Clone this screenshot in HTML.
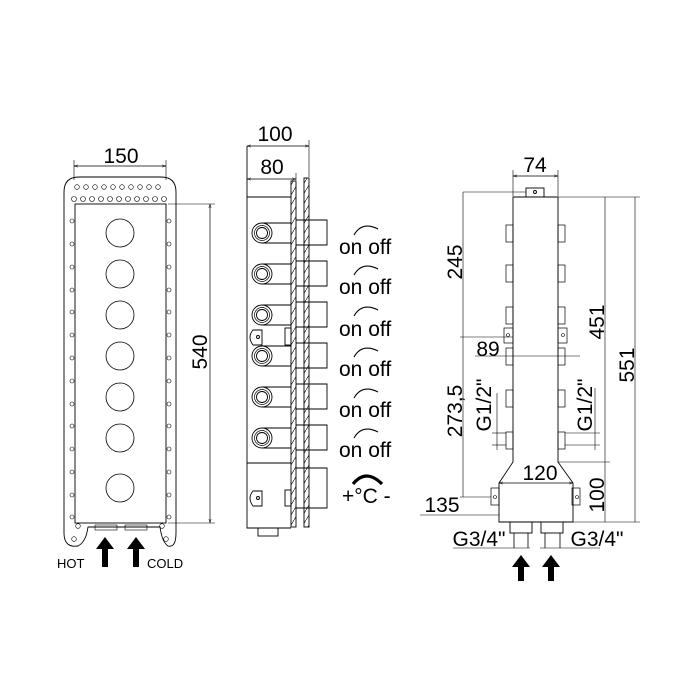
<!DOCTYPE html>
<html><head><style>html,body{margin:0;padding:0;background:#fff}svg{display:block}text{font-family:"Liberation Sans",sans-serif;fill:#000}</style></head><body>
<svg width="700" height="700" viewBox="0 0 700 700" xmlns="http://www.w3.org/2000/svg">
<defs>
<marker id="a" viewBox="0 0 10 10" refX="10" refY="5" markerWidth="6" markerHeight="6" orient="auto-start-reverse"><path d="M0,2 L10,5 L0,8" fill="none" stroke="#000" stroke-width="1"/></marker>
<pattern id="h" width="6" height="10" patternUnits="userSpaceOnUse"><path d="M0,10 L6,0" stroke="#000" stroke-width="0.6"/></pattern>
</defs>
<g fill="none" stroke="#000" stroke-width="0.9">
<path d="M64,533 L64,192 Q64,177 79,177 L161,177 Q176,177 176,192 L176,533 Q176,548 168,546 Q162,542 160,527 L88,527 Q86,542 78,546 Q64,548 64,533 Z"/>
<rect x="75" y="204" width="91" height="319"/>
<line x1="74" y1="166" x2="166" y2="166" marker-start="url(#a)" marker-end="url(#a)" stroke-width="0.7"/>
<line x1="74" y1="160" x2="74" y2="180" stroke-width="0.6"/>
<line x1="166" y1="160" x2="166" y2="180" stroke-width="0.6"/>
<line x1="210" y1="204" x2="210" y2="523" marker-start="url(#a)" marker-end="url(#a)" stroke-width="0.7"/>
<line x1="168" y1="204" x2="215" y2="204" stroke-width="0.6"/>
<line x1="168" y1="523" x2="215" y2="523" stroke-width="0.6"/>
<g stroke-width="0.8">
<circle cx="120" cy="233" r="14"/><circle cx="120" cy="274" r="14"/><circle cx="120" cy="315" r="14"/><circle cx="120" cy="356" r="14"/><circle cx="120" cy="397" r="14"/><circle cx="120" cy="438" r="14"/><circle cx="120" cy="488" r="14"/>
</g>
<g stroke-width="0.6">
<circle cx="77" cy="187" r="2.3"/><circle cx="86" cy="187" r="2.3"/><circle cx="95" cy="187" r="2.3"/><circle cx="104" cy="187" r="2.3"/><circle cx="113" cy="187" r="2.3"/><circle cx="122" cy="187" r="2.3"/><circle cx="131" cy="187" r="2.3"/><circle cx="140" cy="187" r="2.3"/><circle cx="149" cy="187" r="2.3"/><circle cx="158" cy="187" r="2.3"/>
<circle cx="74" cy="199" r="2.5"/><circle cx="83" cy="199" r="2.5"/><circle cx="92" cy="199" r="2.5"/><circle cx="101" cy="199" r="2.5"/><circle cx="110" cy="199" r="2.5"/><circle cx="119" cy="199" r="2.5"/><circle cx="128" cy="199" r="2.5"/><circle cx="137" cy="199" r="2.5"/><circle cx="146" cy="199" r="2.5"/><circle cx="155" cy="199" r="2.5"/><circle cx="164" cy="199" r="2.5"/>
</g>
<g stroke-width="0.6" id="sh">
<circle cx="72" cy="221" r="2"/><circle cx="72" cy="244" r="2"/><circle cx="72" cy="267" r="2"/><circle cx="72" cy="290" r="2"/><circle cx="72" cy="312" r="2"/><circle cx="72" cy="335" r="2"/><circle cx="72" cy="358" r="2"/><circle cx="72" cy="381" r="2"/><circle cx="72" cy="404" r="2"/><circle cx="72" cy="426" r="2"/><circle cx="72" cy="449" r="2"/><circle cx="72" cy="472" r="2"/><circle cx="72" cy="495" r="2"/><circle cx="72" cy="517" r="2"/>
</g>
<use href="#sh" transform="translate(97,0)"/>
<g stroke-width="0.6"><circle cx="78" cy="526" r="2.3"/><circle cx="162" cy="526" r="2.3"/><circle cx="74" cy="539" r="2.3"/><circle cx="166" cy="539" r="2.3"/>
<rect x="95" y="525" width="22" height="5"/><rect x="125" y="525" width="22" height="5"/></g>
<path d="M247,146 L247,528 L291,528 M247,197 L291,197"/>
<line x1="247" y1="146" x2="309" y2="146" marker-start="url(#a)" marker-end="url(#a)" stroke-width="0.7"/>
<line x1="309" y1="140" x2="309" y2="177" stroke-width="0.6"/>
<line x1="247" y1="179" x2="296" y2="179" marker-start="url(#a)" marker-end="url(#a)" stroke-width="0.7"/>
<line x1="296" y1="173" x2="296" y2="180" stroke-width="0.6"/>
<rect x="291" y="181" width="5" height="346" fill="url(#h)"/>
<rect x="304" y="178" width="5" height="349" fill="url(#h)"/>
<line x1="247" y1="463" x2="291" y2="463"/>
<g id="kn"><circle cx="262" cy="233" r="10"/><circle cx="262" cy="233" r="7.5" stroke-width="0.7"/><circle cx="262" cy="233" r="5.5"/><path d="M262,223 L291,223 M262,243 L291,243 M296,220 L327,220 L327,245 L296,245"/></g>
<use href="#kn" transform="translate(0,41)"/><use href="#kn" transform="translate(0,82)"/><use href="#kn" transform="translate(0,123)"/><use href="#kn" transform="translate(0,164)"/><use href="#kn" transform="translate(0,205)"/>
<path d="M296,468 L327,468 L327,508 L296,508"/>
<path d="M262,330 L253,330 Q247,337 253,345 L262,345 Z"/><circle cx="258" cy="337" r="1.5"/>
<path d="M262,491 L253,491 Q247,498 253,506 L262,506 Z"/><circle cx="258" cy="498" r="1.5"/>
<rect x="285" y="328" width="6" height="17"/><rect x="285" y="490" width="6" height="16"/>
<rect x="258" y="528" width="20" height="8"/>
<g stroke-width="1.1"><path d="M354,235 Q362,221 378,229"/><path d="M354,275 Q362,261 378,269"/><path d="M354,316 Q362,302 378,310"/><path d="M354,357 Q362,343 378,351"/><path d="M354,398 Q362,384 378,392"/><path d="M354,438 Q362,424 378,432"/></g>
<path d="M353,484 Q366,468 382,484" stroke-width="3.2"/>
<path d="M513,197 L558,197 L558,462 L573,483 L573,522 L499,522 L499,483 L513,462 Z"/>
<rect x="526" y="188" width="18" height="9"/><circle cx="535" cy="192" r="1.5"/>
<line x1="513" y1="176" x2="558" y2="176" marker-start="url(#a)" marker-end="url(#a)" stroke-width="0.7"/>
<line x1="513" y1="170" x2="513" y2="196" stroke-width="0.6"/><line x1="558" y1="170" x2="558" y2="196" stroke-width="0.6"/>
<g stroke-width="0.7" id="pp"><rect x="506" y="225" width="7" height="17"/><rect x="506" y="265" width="7" height="17"/><rect x="506" y="307" width="7" height="17"/><rect x="506" y="348" width="7" height="17"/><rect x="506" y="390" width="7" height="17"/><rect x="506" y="432" width="7" height="17"/><rect x="504" y="328" width="9" height="15"/><rect x="491" y="488" width="8" height="17"/></g>
<use href="#pp" transform="translate(1071,0) scale(-1,1)"/>
<g stroke-width="0.6"><circle cx="508" cy="335" r="1.5"/><circle cx="563" cy="335" r="1.5"/><circle cx="495" cy="497" r="1.5"/><circle cx="577" cy="497" r="1.5"/></g>
<g stroke-width="0.6">
<line x1="463" y1="192" x2="526" y2="192"/>
<line x1="463" y1="192" x2="463" y2="497"/>
<line x1="460" y1="337" x2="513" y2="337"/>
<line x1="460" y1="497" x2="491" y2="497"/>
<line x1="420" y1="515" x2="499" y2="515"/>
<line x1="475" y1="356" x2="580" y2="356"/>
<line x1="558" y1="197" x2="640" y2="197"/>
<line x1="573" y1="522" x2="640" y2="522"/>
<line x1="558" y1="462" x2="610" y2="462"/>
<line x1="605" y1="197" x2="605" y2="522"/>
<line x1="635" y1="197" x2="635" y2="522"/>
<line x1="497" y1="393" x2="497" y2="450"/><line x1="492" y1="433" x2="506" y2="433"/><line x1="492" y1="445" x2="506" y2="445"/>
<line x1="595" y1="388" x2="595" y2="450"/><line x1="565" y1="433" x2="600" y2="433"/><line x1="565" y1="445" x2="600" y2="445"/>
<line x1="453" y1="548" x2="530" y2="548"/><line x1="540" y1="548" x2="600" y2="548"/>
</g>
<line x1="499" y1="483" x2="573" y2="483" marker-start="url(#a)" marker-end="url(#a)" stroke-width="0.7"/>
<rect x="510" y="522" width="22" height="11"/><rect x="541" y="522" width="22" height="11"/>
<path d="M514,533 L514,548 M528,533 L528,548 M545,533 L545,548 M560,533 L560,548" stroke-width="0.8"/>
</g>
<g fill="#000">
<path d="M105,537 L114,549 L108,549 L108,567 L102,567 L102,549 L96,549 Z"/>
<path d="M136,537 L145,549 L139,549 L139,567 L133,567 L133,549 L127,549 Z"/>
<path d="M521,555 L530,567 L524,567 L524,581 L518,581 L518,567 L512,567 Z"/>
<path d="M551,555 L560,567 L554,567 L554,581 L548,581 L548,567 L542,567 Z"/>
</g>
<g font-size="21">
<text x="121" y="163" text-anchor="middle">150</text>
<text transform="translate(207,352) rotate(-90)" text-anchor="middle">540</text>
<text x="275" y="141" text-anchor="middle">100</text>
<text x="272" y="174" text-anchor="middle">80</text>
<text x="339" y="254">on off</text><text x="339" y="294">on off</text><text x="339" y="336">on off</text><text x="339" y="376">on off</text><text x="339" y="417">on off</text><text x="339" y="457">on off</text>
<text x="342" y="503">+°C -</text>
<text x="535" y="172" text-anchor="middle">74</text>
<text transform="translate(462,262) rotate(-90)" text-anchor="middle">245</text>
<text transform="translate(462,411) rotate(-90)" text-anchor="middle">273,5</text>
<text x="488" y="356" text-anchor="middle">89</text>
<text transform="translate(491,405) rotate(-90)" text-anchor="middle">G1/2"</text>
<text transform="translate(592,405) rotate(-90)" text-anchor="middle">G1/2"</text>
<text x="540" y="480" text-anchor="middle">120</text>
<text transform="translate(604,322) rotate(-90)" text-anchor="middle">451</text>
<text transform="translate(634,365) rotate(-90)" text-anchor="middle">551</text>
<text transform="translate(604,495) rotate(-90)" text-anchor="middle">100</text>
<text x="442" y="512" text-anchor="middle">135</text>
<text x="479" y="546" text-anchor="middle">G3/4"</text>
<text x="597" y="546" text-anchor="middle">G3/4"</text>
</g>
<g font-size="13">
<text x="57" y="568">HOT</text>
<text x="147" y="568">COLD</text>
</g>
</svg>
</body></html>
